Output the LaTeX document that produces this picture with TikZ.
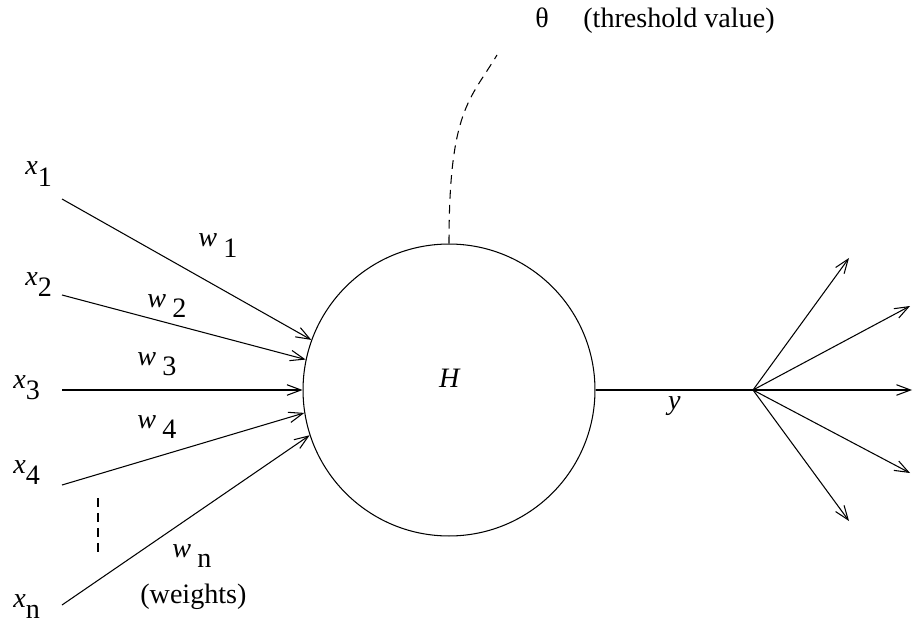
\documentclass[tikz,border=0pt]{standalone}
\usepackage{fontspec}
\setmainfont{Liberation Serif}
\usepackage{tikz}
\usetikzlibrary{arrows.meta, positioning}
\newcommand{\xlbl}[1]{\textit{x}\raisebox{-6.5pt}{#1}}
\newcommand{\wlbl}[1]{\textit{w}\hspace{3.5pt}\raisebox{-6pt}{#1}}

\begin{document}
\begin{tikzpicture}[
  x=0.02cm, y=-0.02cm,
  font=\fontsize{16}{19}\selectfont,
  neuron/.style={circle, draw, line width=0.6pt, minimum size=5.84cm,
                 inner sep=0pt},
  lbl/.style={inner sep=0pt, anchor=base west},
  wire/.style={line width=0.6pt},
  arr/.style={-{Straight Barb[length=8pt, width=6pt]}, line width=0.6pt},
  dashline/.style={line width=0.6pt, dash pattern=on 5pt off 3.5pt},
]
\useasboundingbox (0,0) rectangle (915,631);

%% ── Neuron ───────────────────────────────────────────────────────────────────
\node[neuron] (N) at (449,390) {};
\node[inner sep=0pt] (H) at (450,378) {\textit{H}};

%% ── Inputs and weights ───────────────────────────────────────────────────────
%  Each input line starts just right of its label and ends on the circle.
\coordinate (s1) at (62,199);
\coordinate (s2) at (62,295);
\coordinate (s3) at (62,390);
\coordinate (s4) at (62,485);
\coordinate (sn) at (62,605);

\node[lbl] (x1) at (25,175) {\xlbl{1}};
\node[lbl] (x2) at (25,285) {\xlbl{2}};
\node[lbl] (x3) at (13,388) {\xlbl{3}};
\node[lbl] (x4) at (13,473) {\xlbl{4}};
\node[lbl] (xn) at (13,607) {\xlbl{n}};

\draw[arr] (s1) -- (N.160);
\draw[arr] (s2) -- (N.168);
\draw[arr] (s3) -- (N.west);
\draw[arr] (s4) -- (N.189);
\draw[arr] (sn) -- (N.198);

\node[lbl] (w1) at (198,247) {\wlbl{1}};
\node[lbl] (w2) at (147,307) {\wlbl{2}};
\node[lbl] (w3) at (137,365) {\wlbl{3}};
\node[lbl] (w4) at (137,428) {\wlbl{4}};
\node[lbl] (wn) at (172,557) {\wlbl{n}};
\node[lbl] (wts) at (140,603) {(weights)};

% the omitted inputs
\coordinate (g1) at (98,498);
\coordinate (g2) at (98,557);
\draw[dashline] (g1) -- (g2);

%% ── Threshold ────────────────────────────────────────────────────────────────
\node[lbl] (theta) at (535,28) {θ};
\node[lbl] (thr)   at (583,28) {(threshold value)};
\coordinate (tend) at (497,55);
\draw[dashline] (N.north) .. controls (449,110) and (470,100) .. (tend);

%% ── Output ───────────────────────────────────────────────────────────────────
\coordinate (fan) at (753,390);
\draw[wire] (N.east) -- (fan) node[midway, below] {\textit{y}};
\foreach \n/\px/\py in {1/849/258, 2/910/306, 3/912/390, 4/910/473, 5/849/521}{
  \coordinate (out\n) at (\px,\py);
  \draw[arr] (fan) -- (out\n);
}

\end{tikzpicture}
\end{document}
